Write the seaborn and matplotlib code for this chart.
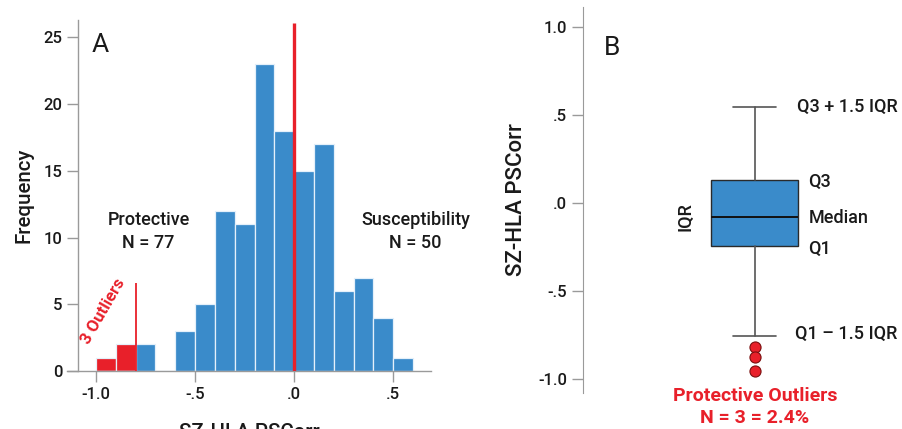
import matplotlib
matplotlib.use('Agg')
import matplotlib.pyplot as plt
import numpy as np
import pandas as pd
import seaborn as sns

# Panel A: histogram of SZ-HLA PSCorr (bin width 0.1)
BIN_EDGES = [-1.0, -0.9, -0.8, -0.7, -0.6, -0.5, -0.4, -0.3, -0.2, -0.1,
             0.0, 0.1, 0.2, 0.3, 0.4, 0.5, 0.6]
COUNTS = [1, 2, 2, 0, 3, 5, 12, 11, 23, 18, 15, 17, 6, 7, 4, 1]
GROUPS = ['outlier', 'outlier'] + ['main'] * 14
X_TICKS_A = [-1.0, -0.5, 0.0, 0.5]
X_TICKLABELS_A = ['-1.0', '-.5', '.0', '.5']
Y_TICKS_A = [0, 5, 10, 15, 20, 25]
OUTLIER_CUTOFF = -0.8

# Panel B: box plot summary
MEDIAN = -0.08
Q1 = -0.245
Q3 = 0.13
WHISKER_LO = -0.755
WHISKER_HI = 0.545
FLIERS = [-0.82, -0.875, -0.955]
Y_TICKS_B = [1.0, 0.5, 0.0, -0.5, -1.0]
Y_TICKLABELS_B = ['1.0', '.5', '.0', '-.5', '-1.0']

BLUE = '#3a8bca'
RED = '#e8202a'
GRAY = '#9a9a9a'
INK = '#1a1a1a'

sns.set_style('ticks')
plt.rcParams['font.family'] = ['Roboto', 'DejaVu Sans']


def plot_histogram(ax: plt.Axes) -> None:
    """Left panel: frequency histogram with outlier bins in red."""
    edges = np.array(BIN_EDGES)
    centers = (edges[:-1] + edges[1:]) / 2
    df = pd.DataFrame({'value': centers, 'count': COUNTS, 'group': GROUPS})
    sns.histplot(data=df, x='value', weights='count', hue='group', hue_order=['main', 'outlier'],
                 bins=list(BIN_EDGES), palette={'main': BLUE, 'outlier': RED}, alpha=1,
                 edgecolor='#e4f0fa', linewidth=0.9, legend=False, ax=ax)
    ax.set_xlim(-1.146, 0.69)
    ax.set_ylim(0, 26.3)
    ax.spines['left'].set_position(('data', -1.09))
    for s in ['top', 'right']:
        ax.spines[s].set_visible(False)
    for s in ['left', 'bottom']:
        ax.spines[s].set_color(GRAY)
        ax.spines[s].set_linewidth(1.0)
    ax.set_xticks(X_TICKS_A)
    ax.set_xticklabels(X_TICKLABELS_A)
    ax.set_yticks(Y_TICKS_A)
    ax.tick_params(axis='both', colors=GRAY, labelcolor=INK, length=8, width=1, labelsize=12)
    for lbl in ax.get_xticklabels() + ax.get_yticklabels():
        lbl.set_fontweight('medium')
    ax.set_ylabel('Frequency', fontsize=14.8, color=INK, labelpad=7, fontweight='medium')
    # the reference shows only the top of this label, cut by the image edge
    ax.set_xlabel('SZ-HLA PSCorr', fontsize=14.8, color=INK, labelpad=15, fontweight='medium')

    ax.vlines(0.0, 0, 26.1, color=RED, linewidth=2.4, zorder=5)
    ax.vlines(OUTLIER_CUTOFF, 0, 6.6, color=RED, linewidth=1.3, zorder=5)
    ax.text(-0.977, 24.4, 'A', fontsize=19, ha='center', va='center', color=INK)
    ax.text(-0.735, 10.45, 'Protective\nN = 77', fontsize=13, ha='center', va='center',
            linespacing=1.3, color=INK, fontweight='medium')
    ax.text(0.613, 10.45, 'Susceptibility\nN = 50', fontsize=13, ha='center', va='center',
            linespacing=1.3, color=INK, fontweight='medium')
    ax.text(-0.965, 4.5, '3 Outliers', fontsize=12, ha='center', va='center', color=RED,
            rotation=60, fontweight='semibold')


def plot_box(ax: plt.Axes) -> None:
    """Right panel: annotated box plot."""
    stats = [{'med': MEDIAN, 'q1': Q1, 'q3': Q3, 'whislo': WHISKER_LO, 'whishi': WHISKER_HI,
              'fliers': FLIERS}]
    pos = 0.5375
    ax.bxp(stats, positions=[pos], widths=0.272, capwidths=0.134, patch_artist=True,
           boxprops={'facecolor': BLUE, 'edgecolor': '#2a2a2a', 'linewidth': 1.0},
           medianprops={'color': '#111111', 'linewidth': 1.4},
           whiskerprops={'color': '#555555', 'linewidth': 1.2},
           capprops={'color': '#555555', 'linewidth': 1.2},
           flierprops={'marker': 'o', 'markerfacecolor': RED, 'markeredgecolor': '#7a1010',
                       'markersize': 8, 'markeredgewidth': 0.8})
    ax.set_xlim(0, 1)
    ax.set_ylim(-1.08, 1.114)
    for s in ['top', 'right', 'bottom']:
        ax.spines[s].set_visible(False)
    ax.spines['left'].set_color(GRAY)
    ax.set_xticks([])
    ax.set_yticks(Y_TICKS_B)
    ax.set_yticklabels(Y_TICKLABELS_B)
    ax.tick_params(axis='y', colors=GRAY, labelcolor=INK, length=8, width=1, labelsize=12)
    for lbl in ax.get_yticklabels():
        lbl.set_fontweight('medium')
    ax.set_ylabel('SZ-HLA PSCorr', fontsize=16, color=INK, labelpad=8, fontweight='medium')

    ax.text(0.09, 0.88, 'B', fontsize=19, ha='center', va='center', color=INK)
    kw = dict(fontsize=13, ha='left', va='center', color=INK, fontweight='medium')
    ax.text(0.67, WHISKER_HI, 'Q3 + 1.5 IQR', **kw)
    ax.text(0.705, Q3 - 0.01, 'Q3', **kw)
    ax.text(0.705, MEDIAN - 0.005, 'Median', **kw)
    ax.text(0.705, Q1 - 0.015, 'Q1', **kw)
    ax.text(0.662, WHISKER_LO + 0.01, 'Q1 \u2013 1.5 IQR', **kw)
    ax.text(0.32, (Q1 + Q3) / 2 - 0.02, 'IQR', fontsize=13, ha='center', va='center',
            rotation=90, color=INK, fontweight='medium')
    ax.text(pos, -1.158, 'Protective Outliers\nN = 3 = 2.4%', fontsize=14, ha='center',
            va='center', color=RED, linespacing=1.3, fontweight='semibold', clip_on=False)


fig = plt.figure(figsize=(9.03, 4.29), dpi=100)
ax_a = fig.add_axes([0.0742, 0.1352, 0.403, 0.8182])
ax_b = fig.add_axes([0.6456, 0.0839, 0.354, 0.8998])
plot_histogram(ax_a)
plot_box(ax_b)
fig.savefig('out.png', dpi=100)
